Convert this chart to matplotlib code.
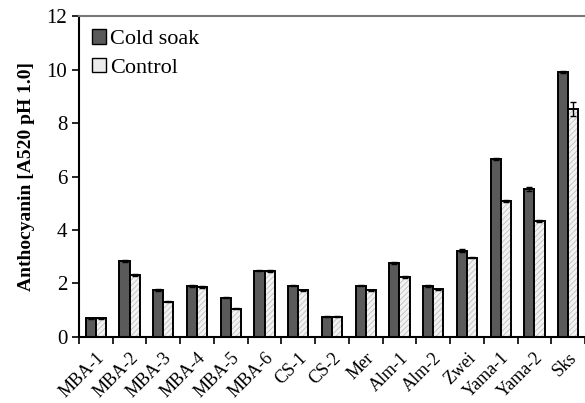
import numpy as np
import matplotlib
matplotlib.use("Agg")
import matplotlib.pyplot as plt
from matplotlib.patches import Patch

categories = ["MBA-1", "MBA-2", "MBA-3", "MBA-4", "MBA-5", "MBA-6", "CS-1", "CS-2",
              "Mer", "Alm-1", "Alm-2", "Zwei", "Yama-1", "Yama-2", "Sks"]
cold_soak = [0.70, 2.85, 1.76, 1.91, 1.47, 2.48, 1.92, 0.75, 1.92, 2.75, 1.91, 3.23, 6.65, 5.53, 9.9]
control = [0.70, 2.31, 1.32, 1.86, 1.05, 2.46, 1.74, 0.75, 1.74, 2.24, 1.78, 2.97, 5.08, 4.34, 8.52]
cold_err = [0.02, 0.04, 0.03, 0.03, 0.03, 0.03, 0.03, 0.02, 0.03, 0.04, 0.03, 0.04, 0.04, 0.08, 0.04]
control_err = [0.02, 0.03, 0.02, 0.03, 0.02, 0.03, 0.03, 0.02, 0.03, 0.03, 0.03, 0.03, 0.03, 0.04, 0.25]

plt.rcParams["font.family"] = ["Liberation Serif", "DejaVu Serif"]
plt.rcParams["hatch.linewidth"] = 0.6

fig = plt.figure(figsize=(5.85, 4.03), dpi=100)
ax = fig.add_axes([0.135, 0.164, 0.865, 0.796])

x = np.arange(len(categories))
w = 0.3
ax.bar(x - w / 2, cold_soak, w, yerr=cold_err, color="#5a5a5a", edgecolor="black",
       linewidth=1.4, capsize=2, error_kw=dict(elinewidth=1, ecolor="black"))
# light hatching under a black outline
ax.bar(x + w / 2, control, w, color="#f2f2f2", edgecolor="#c0c0c0", linewidth=0,
       hatch="//////")
ax.bar(x + w / 2, control, w, yerr=control_err, color="none", edgecolor="black",
       linewidth=1.4, capsize=2, error_kw=dict(elinewidth=1, ecolor="black"))

ax.set_xlim(-0.5, len(categories) - 0.5)
ax.set_ylim(0, 12)
ax.set_yticks(range(0, 13, 2))
ax.set_xticks(x)
ax.set_xticklabels(categories, rotation=45, ha="right", rotation_mode="anchor", fontsize=13)
ax.set_xticks(np.arange(-0.5, len(categories), 1), minor=True)
ax.tick_params(axis="x", which="major", length=0, pad=9)
ax.tick_params(axis="x", which="minor", length=5, width=1.2, direction="out")
ax.tick_params(axis="y", labelsize=15, length=5, width=1.2)
ax.set_ylabel("Anthocyanin [A520 pH 1.0]", fontsize=14, fontweight="bold", labelpad=8)

for s in ["left", "bottom"]:
    ax.spines[s].set_linewidth(1.5)
ax.spines["top"].set_color("#777777")
ax.spines["top"].set_linewidth(1.5)
ax.spines["right"].set_visible(False)

handles = [Patch(facecolor="#5a5a5a", edgecolor="black", linewidth=1),
           Patch(facecolor="#ececec", edgecolor="black", linewidth=1)]
ax.legend(handles, ["Cold soak", "Control"], loc="upper left", frameon=False, fontsize=16,
          handlelength=0.6, handleheight=0.6, handletextpad=0.2, borderaxespad=0.2,
          labelspacing=0.4)

fig.savefig("out.png", dpi=100)
